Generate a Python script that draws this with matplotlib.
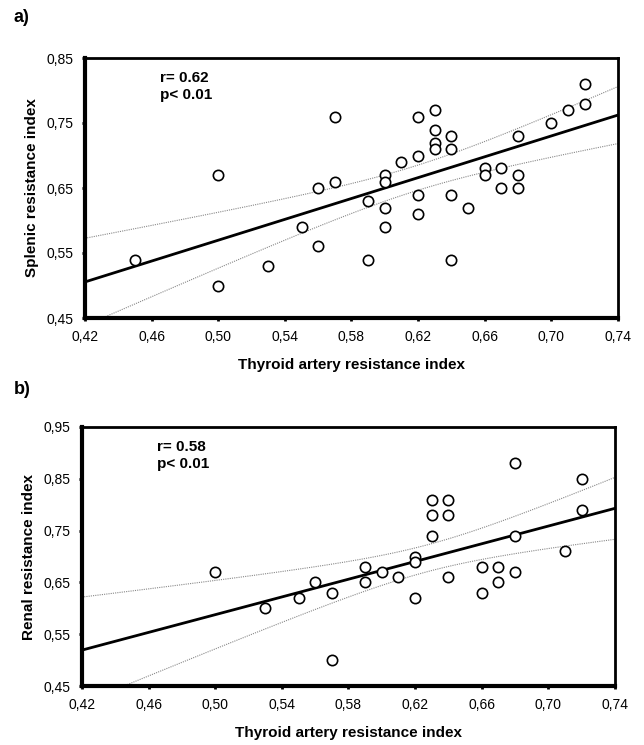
import matplotlib
matplotlib.use("Agg")
import matplotlib.pyplot as plt
import matplotlib.ticker as mticker
import numpy as np

plt.rcParams['font.family'] = ['Liberation Sans', 'DejaVu Sans']

# panel a: thyroid RI vs splenic RI
thyroid_a = [0.45, 0.50, 0.50, 0.53, 0.55, 0.56, 0.56, 0.57, 0.57,
             0.59, 0.59, 0.60, 0.60, 0.60, 0.60, 0.61, 0.62, 0.62, 0.62, 0.62,
             0.63, 0.63, 0.63, 0.63, 0.64, 0.64, 0.64, 0.64, 0.65,
             0.66, 0.66, 0.67, 0.67, 0.68, 0.68, 0.68, 0.70, 0.71, 0.72, 0.72]
splenic = [0.54, 0.67, 0.50, 0.53, 0.59, 0.65, 0.56, 0.66, 0.76,
           0.63, 0.54, 0.67, 0.66, 0.62, 0.59, 0.69, 0.76, 0.70, 0.64, 0.61,
           0.77, 0.74, 0.72, 0.71, 0.73, 0.71, 0.64, 0.54, 0.62,
           0.68, 0.67, 0.68, 0.65, 0.73, 0.67, 0.65, 0.75, 0.77, 0.81, 0.78]

# panel b: thyroid RI vs renal RI
thyroid_b = [0.50, 0.53, 0.55, 0.56, 0.57, 0.57, 0.59, 0.59, 0.60, 0.61,
             0.62, 0.62, 0.62, 0.63, 0.63, 0.63, 0.64, 0.64, 0.64,
             0.66, 0.66, 0.67, 0.67, 0.68, 0.68, 0.68, 0.71, 0.72, 0.72]
renal = [0.67, 0.60, 0.62, 0.65, 0.63, 0.50, 0.68, 0.65, 0.67, 0.66,
         0.70, 0.69, 0.62, 0.81, 0.78, 0.74, 0.81, 0.78, 0.66,
         0.68, 0.63, 0.68, 0.65, 0.88, 0.74, 0.67, 0.71, 0.85, 0.79]

panels = [
    ("a)", thyroid_a, splenic, "Splenic resistance index", "r= 0.62\np< 0.01",
     [0.45, 0.55, 0.65, 0.75, 0.85]),
    ("b)", thyroid_b, renal, "Renal resistance index", "r= 0.58\np< 0.01",
     [0.45, 0.55, 0.65, 0.75, 0.85, 0.95]),
]
xticks = [0.42, 0.46, 0.50, 0.54, 0.58, 0.62, 0.66, 0.70, 0.74]

fig = plt.figure(figsize=(6.44, 7.45), dpi=100)
# axes boxes (left, bottom, width, height) and panel tag positions in pixels
boxes = [[85/644, 1-318/745, 533/644, 260/745],
         [82/644, 1-686/745, 533/644, 259/745]]
tag_y = [18, 390]


def comma(v, pos):
    return ("%.2f" % v).replace(".", ",")


for (tag, x, y, ylab, txt, yticks), box, ty in zip(panels, boxes, tag_y):
    ax = fig.add_axes(box)
    x = np.array(x)
    y = np.array(y)

    # linear fit with 95% confidence band of the mean
    n = len(x)
    b, a = np.polyfit(x, y, 1)
    xs = np.linspace(0.42, 0.74, 100)
    resid = y - (a + b * x)
    s = np.sqrt(np.sum(resid**2) / (n - 2))
    se = s * np.sqrt(1/n + (xs - x.mean())**2 / np.sum((x - x.mean())**2))
    t = 2.03
    ax.plot(xs, a + b * xs, color="black", lw=2.0, zorder=3)
    ax.plot(xs, a + b * xs + t * se, color="#888888", lw=0.8, ls=(0, (1, 1)))
    ax.plot(xs, a + b * xs - t * se, color="#888888", lw=0.8, ls=(0, (1, 1)))

    ax.scatter(x, y, s=55, facecolors="white", edgecolors="black",
               linewidths=1.2, zorder=4)

    ax.set_xlim(0.42, 0.74)
    ax.set_ylim(yticks[0], yticks[-1])
    ax.set_xticks(xticks)
    ax.set_yticks(yticks)
    ax.xaxis.set_major_formatter(mticker.FuncFormatter(comma))
    ax.yaxis.set_major_formatter(mticker.FuncFormatter(comma))
    ax.tick_params(direction="out", length=2.5, width=2, labelsize=10, pad=6)

    ax.spines["left"].set_linewidth(3)
    ax.spines["bottom"].set_linewidth(3)
    ax.spines["top"].set_linewidth(2)
    ax.spines["right"].set_linewidth(2)

    ax.set_xlabel("Thyroid artery resistance index", fontsize=11,
                  fontweight="bold", labelpad=10)
    ax.set_ylabel(ylab, fontsize=11, fontweight="bold", labelpad=5)
    ax.text(0.14, 0.95, txt, transform=ax.transAxes, fontsize=11,
            fontweight="bold", va="top", linespacing=1.3)
    fig.text(14/644, 1 - ty/745, tag, fontsize=13, fontweight="bold",
             va="center")

fig.savefig("out.png", dpi=100)
